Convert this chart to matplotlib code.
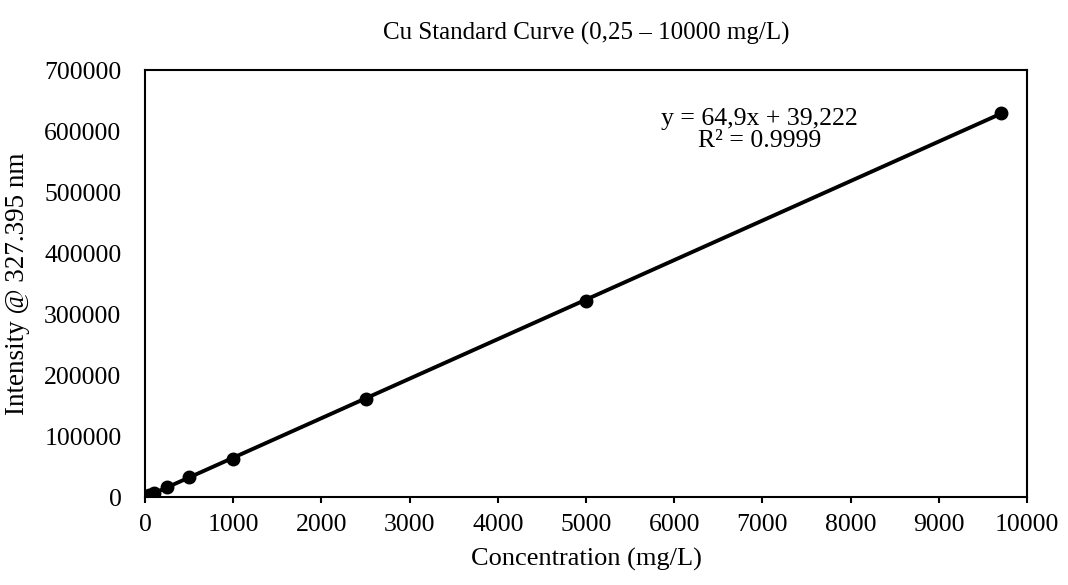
import matplotlib.pyplot as plt
import numpy as np

# standard concentrations (mg/L) and measured intensities
conc = [0.25, 1, 5, 10, 50, 100, 250, 500, 1000, 2500, 5000, 9700]
intensity = [55, 105, 360, 690, 3300, 6500, 16300, 32500, 63000, 160000, 322000, 629500]

xticks = list(range(0, 10001, 1000))
yticks = list(range(0, 700001, 100000))

plt.rcParams['font.family'] = ['Liberation Serif', 'DejaVu Serif']

fig = plt.figure(figsize=(10.68, 5.85), dpi=100)
ax = fig.add_axes([0.1358, 0.1504, 0.8258, 0.7299])

# linear trendline
slope, inter = np.polyfit(conc, intensity, 1)
xl = np.array([conc[0], conc[-1]])
ax.plot(xl, slope * xl + inter, color='black', lw=2.8, zorder=2)
ax.plot(conc, intensity, 'o', color='black', ms=9, zorder=3)

ax.set_xlim(0, 10000)
ax.set_ylim(0, 700000)
ax.set_xticks(xticks)
ax.set_yticks(yticks)
ax.tick_params(axis='x', direction='out', length=4.5, width=1.5, pad=8,
               labelsize=18.5, colors='black')
ax.tick_params(axis='y', length=0, pad=17, labelsize=18.5, colors='black')
for s in ax.spines.values():
    s.set_linewidth(1.5)

ax.set_title('Cu Standard Curve (0,25 \u2013 10000 mg/L)', fontsize=18, pad=22)
ax.set_xlabel('Concentration (mg/L)', fontsize=19, labelpad=8)
ax.set_ylabel('Intensity @ 327.395 nm', fontsize=19.5, labelpad=10)

ax.text(0.697, 0.86, 'y = 64,9x + 39,222\nR\u00b2 = 0.9999', transform=ax.transAxes,
        ha='center', va='center', fontsize=18.5, linespacing=1.0)

fig.savefig('out.png', dpi=100)
